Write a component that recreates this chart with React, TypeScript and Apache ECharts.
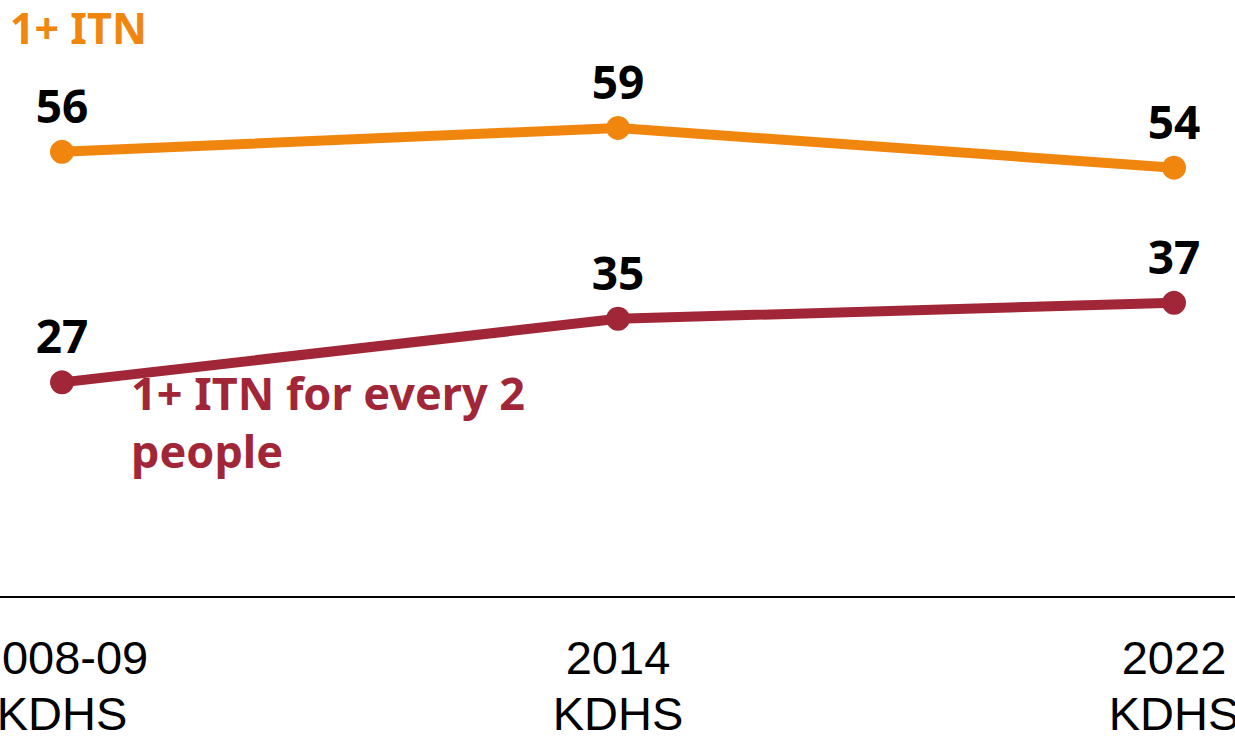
import React, { useEffect, useRef } from "react";
import * as echarts from "echarts";

const categories = ["2008-09\nKDHS", "2014\nKDHS", "2022\nKDHS"];
const anyItn = [56, 59, 54];
const itnPerTwo = [27, 35, 37];
const seriesNames = ["1+ ITN", "1+ ITN for every 2\npeople"];

const ORANGE = "#F0860E";
const RED = "#A12738";
const FONT = "'Noto Sans', 'DejaVu Sans', sans-serif";
const AXIS_FONT = "'Liberation Sans', Arial, sans-serif";

export default function App() {
  const ref = useRef<HTMLDivElement>(null);
  useEffect(() => {
    document.body.style.margin = "0";
    if (!ref.current) return;
    const chart = echarts.init(ref.current, undefined, { renderer: "svg" });
    const gridBottom = 140;
    chart.setOption({
      animation: false,
      backgroundColor: "#ffffff",
      grid: {
        left: 62,
        right: 61,
        top: 40.5,
        bottom: gridBottom,
        containLabel: false,
        outerBoundsMode: "none",
      },
      xAxis: {
        type: "category",
        data: categories,
        boundaryGap: false,
        axisLine: { show: false },
        axisTick: { show: false },
        splitLine: { show: false },
        axisLabel: {
          color: "#000",
          fontFamily: AXIS_FONT,
          fontSize: 47,
          lineHeight: 56,
          margin: 32,
          interval: 0,
        },
      },
      yAxis: {
        type: "value",
        min: 0,
        max: 70,
        show: false,
        splitLine: { show: false },
      },
      graphic: [
        {
          type: "line",
          shape: { x1: 0, y1: 737 - gridBottom, x2: 1235, y2: 737 - gridBottom },
          style: { stroke: "#000", lineWidth: 2 },
          silent: true,
        },
        {
          type: "text",
          left: 10,
          top: 4,
          style: {
            text: seriesNames[0],
            fill: ORANGE,
            font: `bold 43px ${FONT}`,
            lineHeight: 46,
          },
        },
        {
          type: "text",
          left: 131,
          top: 363,
          style: {
            text: seriesNames[1],
            fill: RED,
            font: `bold 45px ${FONT}`,
            lineHeight: 58,
          },
        },
      ],
      series: [
        {
          name: seriesNames[0],
          type: "line",
          data: anyItn,
          symbol: "circle",
          symbolSize: 24,
          lineStyle: { color: ORANGE, width: 10 },
          itemStyle: { color: ORANGE },
          label: {
            show: true,
            position: "top",
            distance: 12,
            color: "#000",
            fontFamily: FONT,
            fontWeight: "bold",
            fontSize: 46,
          },
        },
        {
          name: seriesNames[1],
          type: "line",
          data: itnPerTwo,
          symbol: "circle",
          symbolSize: 24,
          lineStyle: { color: RED, width: 10 },
          itemStyle: { color: RED },
          label: {
            show: true,
            position: "top",
            distance: 12,
            color: "#000",
            fontFamily: FONT,
            fontWeight: "bold",
            fontSize: 46,
          },
        },
      ],
    });
    return () => chart.dispose();
  }, []);
  return <div ref={ref} style={{ width: 1235, height: 737 }} />;
}
